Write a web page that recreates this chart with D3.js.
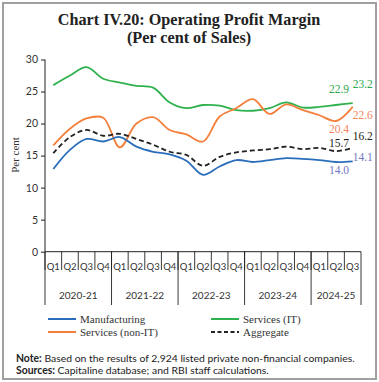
<!DOCTYPE html>
<html><head><meta charset="utf-8">
<script src="https://cdn.jsdelivr.net/npm/d3@7"></script>
<style>body{margin:0;background:#fff}svg{display:block}</style>
</head><body>
<script>
const quarters = ["Q1","Q2","Q3","Q4","Q1","Q2","Q3","Q4","Q1","Q2","Q3","Q4","Q1","Q2","Q3","Q4","Q1","Q2","Q3"];
const years = ["2020-21","2021-22","2022-23","2023-24","2024-25"];
const yearSpans = [4,4,4,4,3];
const manufacturing = [12.9,15.9,17.6,17.2,17.9,16.4,15.6,15.2,14.2,12.0,13.3,14.3,14.0,14.3,14.6,14.5,14.3,14.0,14.1];
const servicesIT    = [26.0,27.5,28.8,27.0,26.4,25.9,25.6,23.3,22.4,22.9,22.8,22.1,22.0,22.4,23.3,22.5,22.6,22.9,23.2];
const servicesNonIT = [16.6,19.2,20.8,20.9,16.3,20.0,21.0,19.0,18.3,17.2,21.1,22.4,23.8,21.5,23.0,22.1,21.3,20.4,22.6];
const aggregate     = [15.4,17.9,19.0,18.1,18.4,17.6,16.7,15.6,15.1,13.4,14.8,15.5,15.8,16.0,16.4,16.0,16.2,15.7,16.2];
const yTicks = [0,5,10,15,20,25,30];

const W=379,H=382;
const svg=d3.select("body").append("svg").attr("width",W).attr("height",H);
svg.append("rect").attr("x",3).attr("y",3).attr("width",373).attr("height",376)
  .attr("fill","none").attr("stroke","#a0a0a0").attr("stroke-width",2);

const title=svg.append("text").attr("text-anchor","middle").attr("font-family","Liberation Serif, serif")
  .attr("font-weight","bold").attr("font-size",16.2).attr("fill","#222");
title.append("tspan").attr("x",189).attr("y",25).text("Chart IV.20: Operating Profit Margin");
title.append("tspan").attr("x",189).attr("y",43).text("(Per cent of Sales)");

const x0=45,x1=361,yTop=59.5,yBot=251.7;
const x=d3.scaleBand().domain(d3.range(quarters.length)).range([x0,x1]).padding(0);
const y=d3.scaleLinear().domain([0,30]).range([yBot,yTop]);
const cx=i=>x(i)+x.bandwidth()/2;

// y axis
const ya=svg.append("g").attr("transform",`translate(${x0},0)`)
  .call(d3.axisLeft(y).tickValues(yTicks).tickSize(4).tickPadding(3));
ya.select(".domain").attr("stroke","#222").attr("d",`M0,${yTop}V${yBot}`);
ya.selectAll(".tick line").attr("stroke","#222");
ya.selectAll("text").attr("font-family","Lato, sans-serif").attr("font-size",10.5).attr("fill","#333");
svg.append("text").attr("transform",`translate(19,155) rotate(-90)`).attr("text-anchor","middle")
  .attr("font-family","Liberation Serif, serif").attr("font-size",11).attr("fill","#333").text("Per cent");

// x axis
const xg=svg.append("g");
xg.append("line").attr("x1",x0).attr("x2",x1).attr("y1",yBot).attr("y2",yBot).attr("stroke","#222");
quarters.forEach((q,i)=>{
  xg.append("line").attr("x1",x(i)).attr("x2",x(i)).attr("y1",yBot).attr("y2",270).attr("stroke","#222").attr("stroke-width",0.9);
  xg.append("text").attr("x",cx(i)).attr("y",269.5).attr("text-anchor","middle")
    .attr("font-family","Lato, sans-serif").attr("font-size",9.5).attr("fill","#333").text(q);
});
let acc=0;
years.forEach((yr,k)=>{
  const a=x(acc), b=acc+yearSpans[k]>=quarters.length? x1 : x(acc+yearSpans[k]);
  xg.append("line").attr("x1",a).attr("x2",a).attr("y1",yBot).attr("y2",305).attr("stroke","#222").attr("stroke-width",0.9);
  xg.append("text").attr("x",(a+b)/2).attr("y",299).attr("text-anchor","middle")
    .attr("font-family","Lato, sans-serif").attr("font-size",10).attr("fill","#333").text(yr);
  acc+=yearSpans[k];
});
xg.append("line").attr("x1",x1).attr("x2",x1).attr("y1",yBot).attr("y2",305).attr("stroke","#222").attr("stroke-width",0.9);

// lines
const series=[
  {name:"Manufacturing",vals:manufacturing,color:"#2a6ebb",dash:null},
  {name:"Services (IT)",vals:servicesIT,color:"#2fb14d",dash:null},
  {name:"Services (non-IT)",vals:servicesNonIT,color:"#f37f3b",dash:null},
  {name:"Aggregate",vals:aggregate,color:"#222",dash:"5,3"}
];
const line=d3.line().x((d,i)=>cx(i)).y(d=>y(d)).curve(d3.curveCatmullRom.alpha(0.5));
[series[1],series[2],series[3],series[0]].forEach(s=>{
  svg.append("path").attr("d",line(s.vals)).attr("fill","none").attr("stroke",s.color)
    .attr("stroke-width",1.8).attr("stroke-dasharray",s.dash);
});

// end labels
const n=quarters.length;
const labels=[
  {s:servicesIT,i:n-2,color:"#2aa84a",dx:3,dy:-12,anchor:"middle"},
  {s:servicesIT,i:n-1,color:"#2aa84a",dx:0,dy:-15,anchor:"start"},
  {s:servicesNonIT,i:n-1,color:"#f4845a",dx:0,dy:12,anchor:"start"},
  {s:servicesNonIT,i:n-2,color:"#f4845a",dx:3,dy:12,anchor:"middle"},
  {s:aggregate,i:n-1,color:"#222",dx:0,dy:-8,anchor:"start"},
  {s:aggregate,i:n-2,color:"#222",dx:3,dy:-4,anchor:"middle"},
  {s:manufacturing,i:n-1,color:"#7278c6",dx:0,dy:0,anchor:"start"},
  {s:manufacturing,i:n-2,color:"#7278c6",dx:3,dy:12,anchor:"middle"}
];
labels.forEach(l=>{
  svg.append("text").attr("x",cx(l.i)+l.dx).attr("y",y(l.s[l.i])+l.dy).attr("text-anchor",l.anchor)
    .attr("font-family","Liberation Serif, serif").attr("font-size",11.5).attr("fill",l.color)
    .text(l.s[l.i].toFixed(1));
});

// legend
const leg=[
  {s:series[0],lx:48,ly:319},{s:series[1],lx:211,ly:319},
  {s:series[2],lx:48,ly:332},{s:series[3],lx:211,ly:332}
];
leg.forEach(l=>{
  svg.append("line").attr("x1",l.lx).attr("x2",l.lx+28).attr("y1",l.ly).attr("y2",l.ly)
    .attr("stroke",l.s.color).attr("stroke-width",2).attr("stroke-dasharray",l.s.dash?"4,2.5":null);
  svg.append("text").attr("x",l.lx+32).attr("y",l.ly+3.5).attr("font-family","Liberation Serif, serif")
    .attr("font-size",11).attr("fill","#333").text(l.s.name);
});

// notes
const note=svg.append("text").attr("x",16).attr("y",362).attr("font-family","Lato, sans-serif").attr("font-size",10.4).attr("fill","#222");
note.append("tspan").attr("font-weight","bold").text("Note:");
note.append("tspan").text(" Based on the results of 2,924 listed private non-financial companies.");
const src=svg.append("text").attr("x",16).attr("y",374).attr("font-family","Lato, sans-serif").attr("font-size",10.4).attr("fill","#222");
src.append("tspan").attr("font-weight","bold").text("Sources:");
src.append("tspan").text(" Capitaline database; and RBI staff calculations.");
</script>
</body></html>
